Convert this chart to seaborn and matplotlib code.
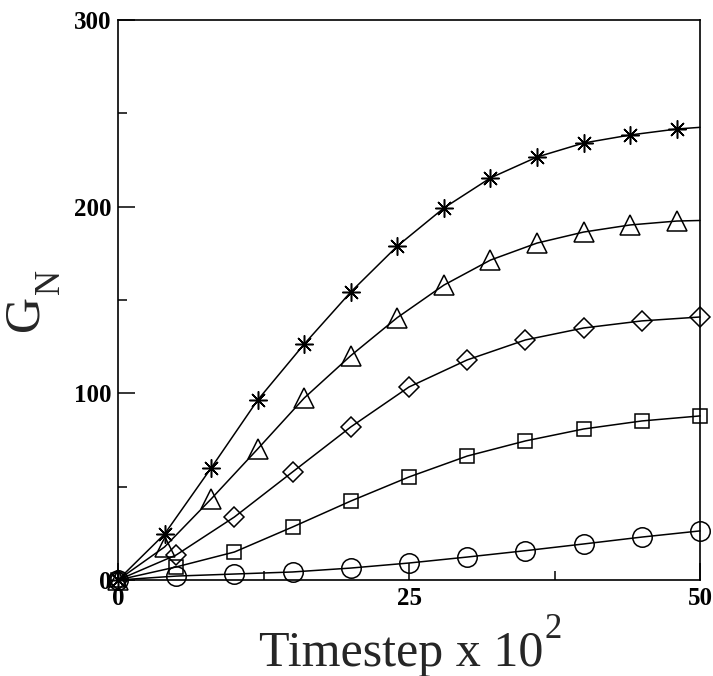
import numpy as np
import pandas as pd
import matplotlib
matplotlib.use("Agg")
import matplotlib.pyplot as plt
import seaborn as sns
from matplotlib.ticker import MultipleLocator

# ---- data ----
x_four = [0, 4, 8, 12, 16, 20, 24, 28, 32, 36, 40, 44, 48, 50]   # last point: line end only
star_vals = [0, 24.6, 60, 96.4, 126.4, 154.3, 178.9, 199.3, 215.4, 226.6, 234.1, 238.4, 241.6, 242.5]
tri_vals = [0, 17.7, 43.4, 70.2, 97.5, 120.2, 140.6, 158, 171.4, 180.5, 186.4, 190.2, 192.3, 192.6]

x_five = [0, 5, 10, 15, 20, 25, 30, 35, 40, 45, 50]
dia_vals = [0, 13.4, 33.75, 57.9, 82, 103.4, 117.9, 128.6, 135, 138.8, 140.9]
sq_vals = [0, 7, 15, 28.4, 42.3, 55.2, 66.4, 74.5, 80.9, 85.2, 87.9]
circ_vals = [0, 2.1, 3.2, 4.3, 6.4, 9.1, 12.3, 15.7, 19.3, 23, 26.3]

x_ticks = [0, 25, 50]
y_ticks = [0, 100, 200, 300]

sns.set_theme(style="white")
plt.rcParams["font.family"] = ["Liberation Serif", "DejaVu Serif"]

fig = plt.figure(figsize=(7.13, 6.76), dpi=100)
ax = fig.add_axes([118 / 713, 96 / 676, 582 / 713, 560 / 676])
ax.set_facecolor("none")

series = [
    (x_four, star_vals, (8, 2, 0), 13, list(range(13))),
    (x_four, tri_vals, "^", 14, list(range(13))),
    (x_five, dia_vals, "D", 10, None),
    (x_five, sq_vals, "s", 10.5, None),
    (x_five, circ_vals, "o", 14, None),
]
for xs, ys, mk, ms, me in series:
    df = pd.DataFrame({"t": xs, "g": ys})
    sns.lineplot(data=df, x="t", y="g", ax=ax, color="black", linewidth=1.1,
                 marker=mk, markersize=ms, mfc="none", mec="black", mew=1.1,
                 markevery=me, estimator=None, sort=True, clip_on=False)

ax.set_xlim(0, 50)
ax.set_ylim(0, 300)
ax.set_xticks(x_ticks)
ax.set_yticks(y_ticks)
ax.xaxis.set_minor_locator(MultipleLocator(12.5))
ax.yaxis.set_minor_locator(MultipleLocator(50))
ax.tick_params(which="major", direction="in", length=12.5, width=1.1, color="black",
               bottom=True, left=True, top=False, right=False, pad=5,
               labelsize=18, labelcolor="black")
ax.tick_params(which="minor", direction="in", length=6.5, width=1.1, color="black",
               bottom=True, left=True, top=False, right=False)
for lab in ax.get_xticklabels() + ax.get_yticklabels():
    lab.set_fontweight("bold")
for s in ax.spines.values():
    s.set_color("black")
    s.set_linewidth(1.2)
    s.set_visible(True)
ax.set_xlabel("")
ax.set_ylabel("")

# axis labels
fig.text(401 / 713, 1 - 666 / 676, "Timestep x 10", fontsize=36, ha="center", va="baseline")
fig.text(544 / 713, 1 - 638 / 676, "2", fontsize=25, ha="left", va="baseline")
fig.text(48 / 713, 1 - 313 / 676, "G", fontsize=36, rotation=90, ha="right", va="center")
fig.text(67 / 713, 1 - 282 / 676, "N", fontsize=25, rotation=90, ha="right", va="center")

fig.savefig("out.png", dpi=100)
